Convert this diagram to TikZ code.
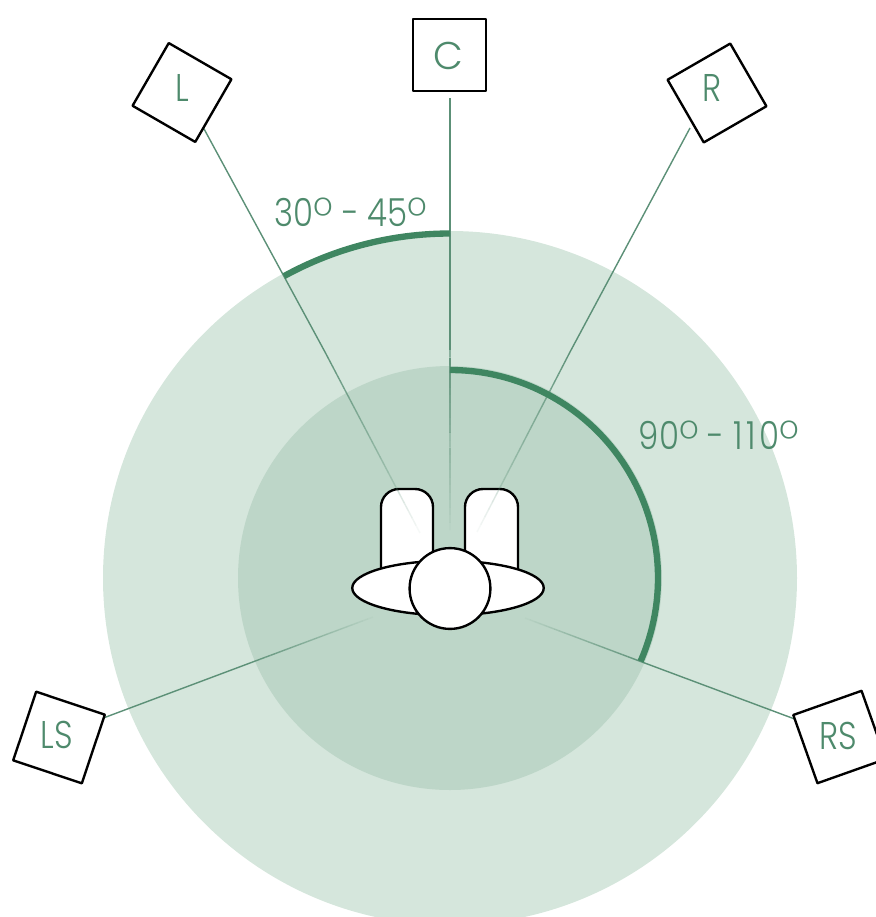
\documentclass[tikz,border=0pt]{standalone}
\usepackage{fontspec}
\usetikzlibrary{calc,shapes.geometric}
\setmainfont{Poppins}[UprightFont=* Light]
\newfontfamily\narrowface{Poppins}[UprightFont=* Light,FakeStretch=0.84]
\newfontfamily\degface{Poppins}[UprightFont=* ExtraLight]
\newcommand{\dg}{\smash{\raisebox{-5pt}{\degface\fontsize{30}{30}\selectfont °}}}
\definecolor{ringout}{HTML}{D5E6DC}
\definecolor{ringin}{HTML}{BDD6C8}
\definecolor{linegreen}{HTML}{5C9077}
\definecolor{arcgreen}{HTML}{3F8661}
\definecolor{textgreen}{HTML}{4E8A6C}
\tikzset{
  spk/.style={draw=black,line width=1.35pt,minimum size=41.2pt,inner sep=0pt,outer sep=0pt,line join=round,fill=white},
  spklabel/.style={text=textgreen,font=\narrowface\fontsize{22}{22}\selectfont,inner sep=0pt},
  anglabel/.style={text=textgreen,font=\narrowface\fontsize{22}{22}\selectfont,inner sep=0pt},
  ray/.style={draw=linegreen,line width=0.8pt},
  bigarc/.style={draw=arcgreen,line width=3.6pt},
  body/.style={draw=black,line width=1.35pt,fill=white},
}
% fading end of a connector: #1 solid start, #2 fade start, #3 end
\newcommand{\fadedray}[3]{%
  \draw[ray] (#1) -- (#2);
  \foreach \i in {1,...,24}{%
    \pgfmathsetmacro{\ta}{(\i-1)/24}%
    \pgfmathsetmacro{\tb}{\i/24}%
    \pgfmathsetmacro{\op}{1-0.95*\tb}%
    \draw[ray,opacity=\op] ($(#2)!\ta!(#3)$) -- ($(#2)!\tb!(#3)$);
  }%
}
\begin{document}
\begin{tikzpicture}[x=0.02cm,y=0.02cm]
\useasboundingbox (0,0) rectangle (876,-917);
\clip (0,0) rectangle (876,-917);
% rings
\coordinate (centre) at (450,-578);
\fill[ringout] (centre) circle[radius=347];
\fill[ringin] (centre) circle[radius=212];
% chair back rests
\draw[body] (381,-570) -- (381,-507) arc[start angle=180,end angle=90,radius=18] -- (415,-489) arc[start angle=90,end angle=0,radius=18] -- (433,-570);
\draw[body] (465,-570) -- (465,-507) arc[start angle=180,end angle=90,radius=18] -- (500,-489) arc[start angle=90,end angle=0,radius=18] -- (518,-570);
% connector ends
\coordinate (Lstart) at (203,-127);
\coordinate (Lfade) at (325,-352);
\coordinate (Lend) at (420,-533);
\coordinate (Cstart) at (450,-98);
\coordinate (Cfade) at (450,-350);
\coordinate (Cend) at (450,-530);
\coordinate (Rstart) at (690,-128);
\coordinate (Rfade) at (570,-352);
\coordinate (Rend) at (477,-532);
\coordinate (LSstart) at (98,-720);
\coordinate (LSfade) at (250,-663);
\coordinate (LSend) at (373,-617);
\coordinate (RSstart) at (800,-721);
\coordinate (RSfade) at (642,-662);
\coordinate (RSend) at (525,-618);
\fadedray{Lstart}{Lfade}{Lend}
\fadedray{Cstart}{Cfade}{Cend}
\fadedray{Rstart}{Rfade}{Rend}
\fadedray{LSstart}{LSfade}{LSend}
\fadedray{RSstart}{RSfade}{RSend}
% listener
\node[body,ellipse,minimum width=109pt,minimum height=31pt,inner sep=0pt] (seat) at (448,-588) {};
\node[body,circle,minimum size=46pt,inner sep=0pt] (head) at (450,-588.5) {};
% arcs
\draw[bigarc] (450,-233.5) arc[start angle=90,end angle=118.8,radius=344.5];
\draw[bigarc] (450,-370) arc[start angle=90,end angle=-23.6,radius=208];
% speakers
\node[spk] (C) at (449.5,-55) {};
\node[spk,rotate=-30] (L) at (182,-92.5) {};
\node[spk,rotate=30] (R) at (717,-93) {};
\node[spk,rotate=-18.5] (LS) at (59,-737.5) {};
\node[spk,rotate=19.5] (RS) at (839.5,-737) {};
\node[spklabel,font=\fontsize{22}{22}\selectfont] (Ct) at (448,-56) {C};
\node[spklabel] (Lt) at (182,-88) {L};
\node[spklabel] (Rt) at (712,-88) {R};
\node[spklabel] (LSt) at (57,-735) {LS};
\node[spklabel] (RSt) at (838,-736) {RS};
\node[anglabel] (a1) at (351,-212) {30\dg{} - 45\dg};
\node[anglabel] (a2) at (719,-435) {90\dg{} - 1\kern2pt1\kern2pt0\dg};
\end{tikzpicture}
\end{document}
